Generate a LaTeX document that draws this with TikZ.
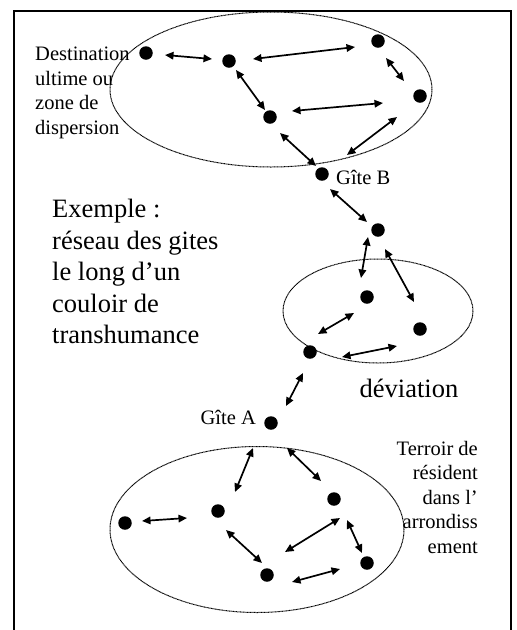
\documentclass[tikz,border=0pt]{standalone}
\usepackage{fontspec}
\setmainfont{Liberation Serif}
\usetikzlibrary{arrows.meta}
\begin{document}
\begin{tikzpicture}[x=1pt,y=-1pt,
  dot/.style={circle,fill=black,inner sep=0pt,minimum size=13.5pt},
  dbl/.style={line width=1.7pt,{Triangle[length=8.5pt,width=7.5pt]}-{Triangle[length=8.5pt,width=7.5pt]}},
  zone/.style={dash pattern=on 0.9pt off 0.5pt,line width=1pt},
  small/.style={font=\fontsize{20.5}{24.5}\selectfont,inner sep=0pt},
  big/.style={font=\fontsize{26.5}{31.5}\selectfont,inner sep=0pt}]
\useasboundingbox (0,0) rectangle (517,630);
% frame
\draw[line width=1.5pt] (14,630) -- (14,11) -- (511,11) -- (511,630);
% zones
\draw[zone] (271,89.5) ellipse [x radius=161,y radius=77.5];
\draw[zone] (378,311) ellipse [x radius=95,y radius=52];
\draw[zone] (257,529.5) ellipse [x radius=147,y radius=83];
% dots
\node[dot] (d1) at (146,53) {};
\node[dot] (d2) at (229,61) {};
\node[dot] (d3) at (378,41) {};
\node[dot] (d4) at (420,96) {};
\node[dot] (d5) at (270,117) {};
\node[dot] (gb) at (322,174) {};
\node[dot] (m1) at (378,230) {};
\node[dot] (m2) at (367,297) {};
\node[dot] (m3) at (420,329) {};
\node[dot] (m4) at (310,352) {};
\node[dot] (ga) at (271,423) {};
\node[dot] (b1) at (125,523) {};
\node[dot] (b2) at (218,511) {};
\node[dot] (b3) at (334,499) {};
\node[dot] (b4) at (267,575) {};
\node[dot] (b5) at (367,563) {};
% arrows, top zone
\draw[dbl] (165,55) coordinate (a1s) -- (212,59) coordinate (a1e);
\draw[dbl] (253,59) coordinate (a2s) -- (355,47) coordinate (a2e);
\draw[dbl] (236,70) coordinate (a3s) -- (265,110) coordinate (a3e);
\draw[dbl] (386,58) coordinate (a4s) -- (404,81) coordinate (a4e);
\draw[dbl] (292,111) coordinate (a5s) -- (383,103) coordinate (a5e);
\draw[dbl] (397,117) coordinate (a6s) -- (347,155) coordinate (a6e);
\draw[dbl] (280,133) coordinate (a7s) -- (316,166) coordinate (a7e);
% arrows, corridor and deviation
\draw[dbl] (330,189) coordinate (a8s) -- (367,222) coordinate (a8e);
\draw[dbl] (368,237) coordinate (a9s) -- (361,278) coordinate (a9e);
\draw[dbl] (385,249) coordinate (a10s) -- (414,302) coordinate (a10e);
\draw[dbl] (318,334) coordinate (a11s) -- (354,313) coordinate (a11e);
\draw[dbl] (342,357) coordinate (a12s) -- (397,346) coordinate (a12e);
\draw[dbl] (303,373) coordinate (a13s) -- (286,406) coordinate (a13e);
% arrows, bottom zone
\draw[dbl] (142,521) coordinate (a14s) -- (187,518) coordinate (a14e);
\draw[dbl] (235,492) coordinate (a15s) -- (253,448) coordinate (a15e);
\draw[dbl] (287,448) coordinate (a16s) -- (321,481) coordinate (a16e);
\draw[dbl] (226,530) coordinate (a17s) -- (262,563) coordinate (a17e);
\draw[dbl] (292,582) coordinate (a18s) -- (340,569) coordinate (a18e);
\draw[dbl] (285,552) coordinate (a19s) -- (340,518) coordinate (a19e);
\draw[dbl] (347,520) coordinate (a20s) -- (362,553) coordinate (a20e);
% texts
\node[small,anchor=north west,align=left] (tdest) at (35,47) {Destination\\ultime ou\\zone de\\dispersion};
\node[small,anchor=west] (tgb) at (336,177) {Gîte B};
\node[small,anchor=east] (tga) at (256,417) {Gîte A};
\node[big,anchor=north west,align=left] (tex) at (52,199) {Exemple :\\réseau des gites\\le long d’un\\couloir de\\transhumance};
\node[big] (tdev) at (409,388) {déviation};
\node[small,anchor=north east,align=right] (tter) at (478,441) {Terroir de\\résident\\dans l’\\arrondiss\\ement};
\end{tikzpicture}
\end{document}
